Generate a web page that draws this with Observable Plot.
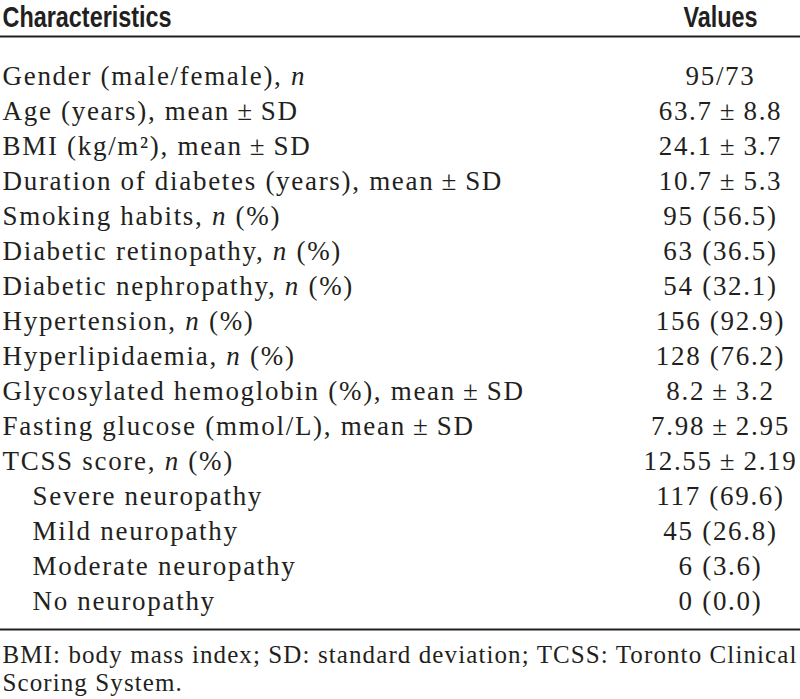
<!DOCTYPE html>
<html>
<head>
<meta charset="utf-8">
<script src="https://cdn.jsdelivr.net/npm/d3@7"></script>
<script src="https://cdn.jsdelivr.net/npm/@observablehq/plot@0.6"></script>
<style>
  html, body { margin: 0; padding: 0; background: #fff; }
  #chart svg { display: block; }
  #chart svg text { letter-spacing: 1.7px; }
  #chart svg .hdr text { letter-spacing: 0; }
  #chart svg .fn text { letter-spacing: 1.1px; }
</style>
</head>
<body>
<div id="chart"></div>
<script>
const headers = ["Characteristics", "Values"];

const characteristics = [
  "Gender (male/female), n",
  "Age (years), mean\u2009±\u2009SD",
  "BMI (kg/m²), mean\u2009±\u2009SD",
  "Duration of diabetes (years), mean\u2009±\u2009SD",
  "Smoking habits, n (%)",
  "Diabetic retinopathy, n (%)",
  "Diabetic nephropathy, n (%)",
  "Hypertension, n (%)",
  "Hyperlipidaemia, n (%)",
  "Glycosylated hemoglobin (%), mean\u2009±\u2009SD",
  "Fasting glucose (mmol/L), mean\u2009±\u2009SD",
  "TCSS score, n (%)",
  "Severe neuropathy",
  "Mild neuropathy",
  "Moderate neuropathy",
  "No neuropathy"
];

const values = [
  "95/73",
  "63.7\u2009±\u20098.8",
  "24.1\u2009±\u20093.7",
  "10.7\u2009±\u20095.3",
  "95 (56.5)",
  "63 (36.5)",
  "54 (32.1)",
  "156 (92.9)",
  "128 (76.2)",
  "8.2\u2009±\u20093.2",
  "7.98\u2009±\u20092.95",
  "12.55\u2009±\u20092.19",
  "117 (69.6)",
  "45 (26.8)",
  "6 (3.6)",
  "0 (0.0)"
];

const subItems = ["Severe neuropathy", "Mild neuropathy", "Moderate neuropathy", "No neuropathy"];

const footnoteLines = [
  "BMI: body mass index; SD: standard deviation; TCSS: Toronto Clinical",
  "Scoring System."
];

const rows = characteristics.map((c, i) => ({label: c, value: values[i], sub: subItems.includes(c)}));

const ink = "#231f20";
const serif = "'Liberation Serif', 'Times New Roman', serif";
const sans = "'Liberation Sans', Arial, sans-serif";

const chart = Plot.plot({
  width: 800,
  height: 699,
  marginTop: 36,
  marginBottom: 70,
  marginLeft: 0,
  marginRight: 0,
  x: {type: "point", domain: headers, padding: 0, insetLeft: 2, insetRight: 80, axis: null},
  y: {type: "point", domain: characteristics, padding: 0, insetTop: 36, insetBottom: 25, axis: null},
  style: {fontFamily: serif, color: ink, background: "#fff"},
  marks: [
    Plot.frame({anchor: "top", stroke: ink, strokeWidth: 2}),
    Plot.frame({anchor: "bottom", stroke: ink, strokeWidth: 2}),
    // header
    Plot.text([headers[0]], {x: d => d, frameAnchor: "top", lineAnchor: "middle", dy: -19, textAnchor: "start",
      fontFamily: sans, fontWeight: "bold", fontSize: 30, fill: ink, className: "hdr"}),
    Plot.text([headers[1]], {x: d => d, frameAnchor: "top", lineAnchor: "middle", dy: -19, textAnchor: "middle",
      fontFamily: sans, fontWeight: "bold", fontSize: 30, fill: ink, className: "hdr"}),
    // body labels
    Plot.text(rows.filter(r => !r.sub), {x: () => headers[0], y: "label", text: "label",
      textAnchor: "start", fontSize: 27, fill: ink}),
    Plot.text(rows.filter(r => r.sub), {x: () => headers[0], y: "label", text: "label",
      textAnchor: "start", dx: 30, fontSize: 27, fill: ink}),
    // values
    Plot.text(rows, {x: () => headers[1], y: "label", text: "value",
      textAnchor: "middle", fontSize: 27, fill: ink}),
    // footnote
    Plot.text([footnoteLines.join("\n")], {frameAnchor: "bottom-left", lineAnchor: "top",
      dx: 2, dy: 14, lineHeight: 1.12, textAnchor: "start", fontSize: 25, fill: ink, className: "fn"})
  ]
});

// italicise the statistical symbol "n" in labels
d3.select(chart).selectAll("text").each(function() {
  const el = this;
  if (el.querySelector("tspan")) return;
  const t = el.textContent;
  const m = t.match(/^(.*, )n( \(%\))?$/);
  if (!m) return;
  el.textContent = "";
  const s = d3.select(el);
  s.append("tspan").text(m[1]);
  s.append("tspan").attr("font-style", "italic").text("n");
  if (m[2]) s.append("tspan").text(m[2]);
});

document.getElementById("chart").append(chart);

// condensed look for the bold header (like a condensed grotesque)
d3.select(chart).selectAll(".hdr text").each(function() {
  const len = this.getComputedTextLength();
  this.setAttribute("textLength", (len * 0.78).toFixed(1));
  this.setAttribute("lengthAdjust", "spacingAndGlyphs");
});
</script>
</body>
</html>
